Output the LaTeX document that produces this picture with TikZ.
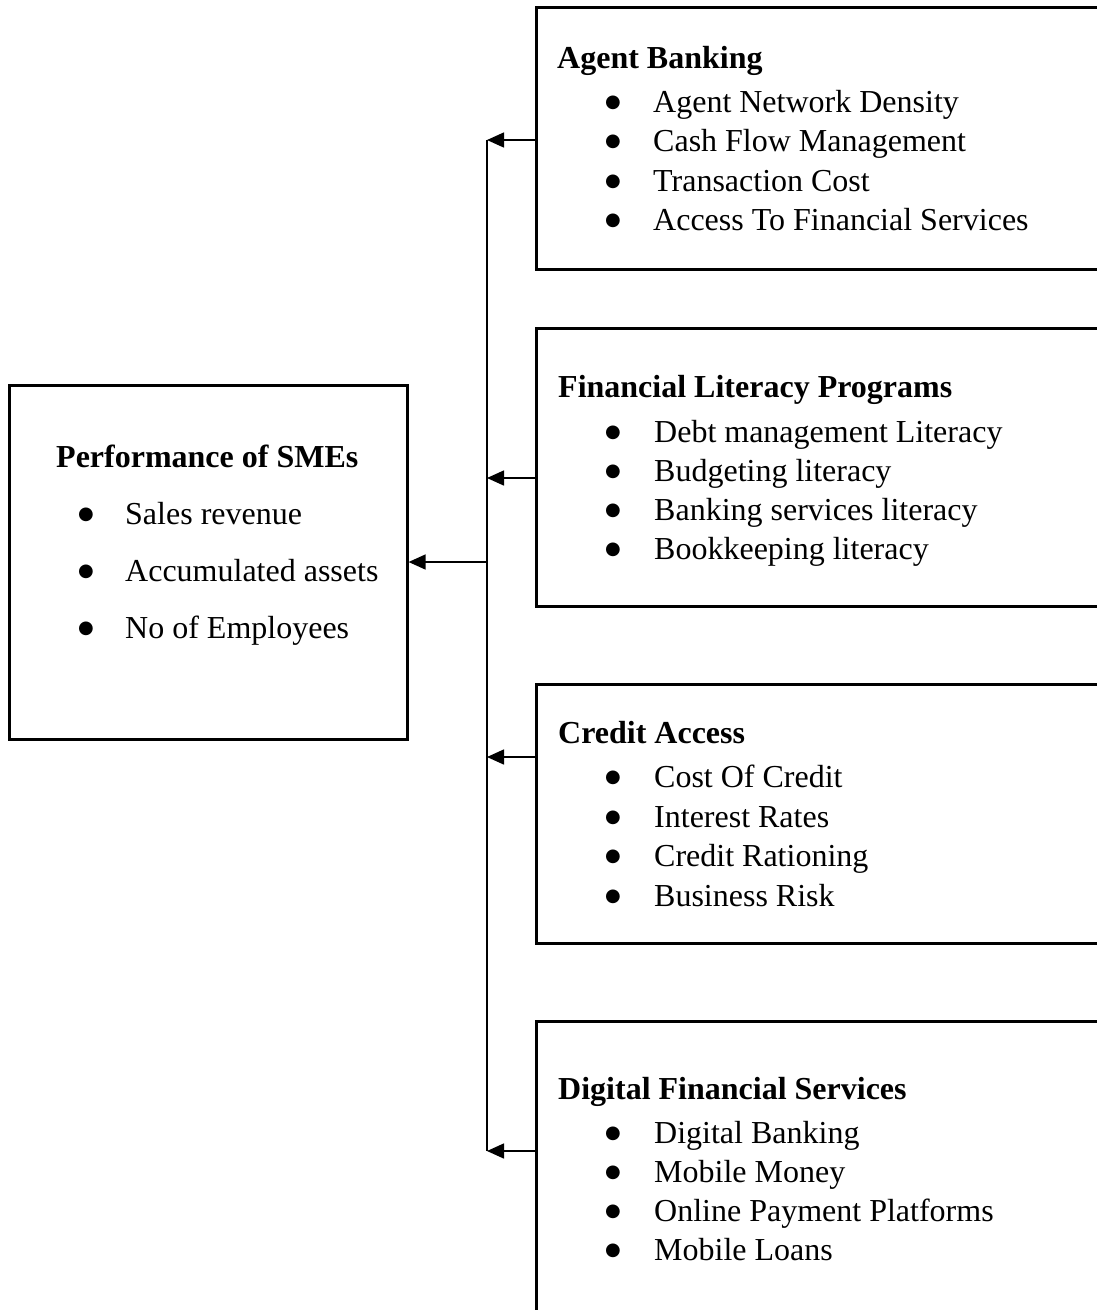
\documentclass[tikz,border=0pt]{standalone}
\usepackage{fontspec}
\setmainfont{Liberation Serif}
\newfontfamily\bulletfont{DejaVu Sans}
\usetikzlibrary{arrows.meta}

% round bullet, then the tab up to the item text
\newcommand{\bul}[1]{\makebox[#1][l]{\bulletfont\fontsize{18}{18}\selectfont\raisebox{4.5pt}{●}}}

\begin{document}
\begin{tikzpicture}[x=1pt,y=-1pt,
		box/.style={draw,line width=2.6pt,anchor=north west,inner sep=0pt},
		txt/.style={anchor=base west,inner sep=0pt,font=\fontsize{32}{39.5}\selectfont},
		head/.style={txt,font=\fontsize{32}{39.5}\selectfont\bfseries},
		link/.style={line width=1.5pt},
		arr/.style={link,-{Triangle[length=17pt,width=15pt]}}]
					\useasboundingbox (0,0) rectangle (1097,1310);
					\clip (0,0) rectangle (1097,1310);
					% boxes, the right ones run off the page
					\node[box,minimum width=398pt,minimum height=354pt] (perf) at (8,384) {};
					\node[box,minimum width=620pt,minimum height=262pt] (agent) at (535,6) {};
					\node[box,minimum width=620pt,minimum height=278pt] (literacy) at (535,327) {};
					\node[box,minimum width=620pt,minimum height=259pt] (credit) at (535,683) {};
					\node[box,minimum width=620pt,minimum height=400pt] (digital) at (535,1020) {};
					
					% left box
					\path (56,467) node[head] (p0) {Performance of SMEs};
					\path (78,524) node[txt] (p1) {\bul{47pt}Sales revenue};
					\path (78,581) node[txt] (p2) {\bul{47pt}Accumulated assets};
					\path (78,638) node[txt] (p3) {\bul{47pt}No of Employees};
					
					\path (557,68) node[head] (a0) {Agent Banking};
					\path (605,112) node[txt] (a1) {\bul{48pt}Agent Network Density};
					\path (605,151) node[txt] (a2) {\bul{48pt}Cash Flow Management};
					\path (605,191) node[txt] (a3) {\bul{48pt}Transaction Cost};
					\path (605,230) node[txt] (a4) {\bul{48pt}Access To Financial Services};
					
					\path (558,397) node[head] (f0) {Financial Literacy Programs};
					\path (605,442) node[txt] (f1) {\bul{49pt}Debt management Literacy};
					\path (605,481) node[txt] (f2) {\bul{49pt}Budgeting literacy};
					\path (605,520) node[txt] (f3) {\bul{49pt}Banking services literacy};
					\path (605,559) node[txt] (f4) {\bul{49pt}Bookkeeping literacy};
					
					\path (558,743) node[head] (c0) {Credit Access};
					\path (605,787) node[txt] (c1) {\bul{49pt}Cost Of Credit};
					\path (605,827) node[txt] (c2) {\bul{49pt}Interest Rates};
					\path (605,866) node[txt] (c3) {\bul{49pt}Credit Rationing};
					\path (605,906) node[txt] (c4) {\bul{49pt}Business Risk};
					
					\path (558,1099) node[head] (d0) {Digital Financial Services};
					\path (605,1143) node[txt] (d1) {\bul{49pt}Digital Banking};
					\path (605,1182) node[txt] (d2) {\bul{49pt}Mobile Money};
					\path (605,1221) node[txt] (d3) {\bul{49pt}Online Payment Platforms};
					\path (605,1260) node[txt] (d4) {\bul{49pt}Mobile Loans};
					
					% collecting line and arrows
					\coordinate (j1) at (487,140);
					\coordinate (j2) at (487,478);
					\coordinate (j3) at (487,757);
					\coordinate (j4) at (487,1151);
					\coordinate (jm) at (487,562);
					\draw[link] (j1) -- (j4);
					\draw[arr] (agent.west |- j1) -- (j1);
					\draw[arr] (literacy.west |- j2) -- (j2);
					\draw[arr] (credit.west |- j3) -- (j3);
					\draw[arr] (digital.west |- j4) -- (j4);
					\draw[arr] (jm) -- (perf.east |- jm);
					\end{tikzpicture}
\end{document}
